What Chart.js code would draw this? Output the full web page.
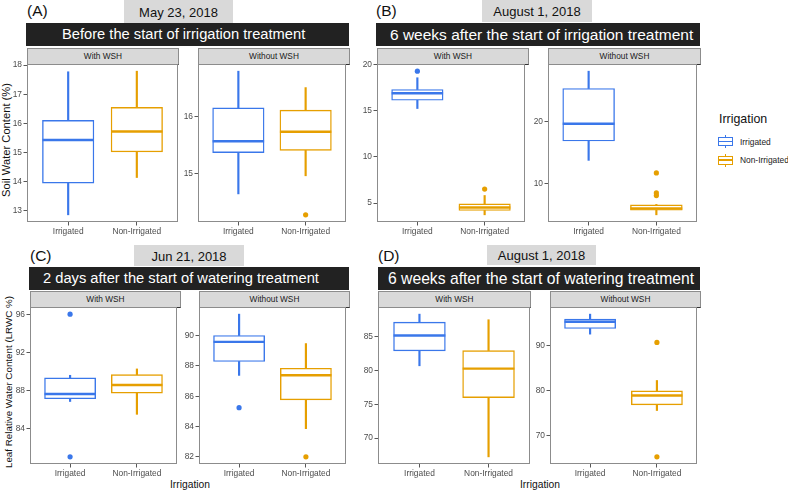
<!DOCTYPE html>
<html><head><meta charset="utf-8">
<script src="https://cdn.jsdelivr.net/npm/chart.js@4.4.0/dist/chart.umd.min.js"></script>
<style>
body{margin:0;background:#fff;width:788px;height:490px;position:relative;overflow:hidden;font-family:"Liberation Sans",Arial,Helvetica,sans-serif;}
.abs{position:absolute;white-space:nowrap;}
.date{background:#d9d9d9;color:#111;font-size:13px;text-align:center;}
.hdr{background:#222;color:#fff;}
.strip{background:#d9d9d9;border:1px solid #8c8c8c;border-bottom-color:#333;box-sizing:border-box;font-size:8.3px;text-align:center;color:#1a1a1a;}
canvas{position:absolute;}
</style></head><body>
<script>
// ---------- data ----------
const categories = ['Irrigated', 'Non-Irrigated'];
const seriesColors = ['#3A77EA', '#E69F00'];
const stripLabels = ['With WSH', 'Without WSH'];
const panelLetters = ['(A)', '(B)', '(C)', '(D)'];
const panelDates = ['May 23, 2018', 'August 1, 2018', 'Jun 21, 2018', 'August 1, 2018'];
const panelHeaders = ['Before the start of irrigation treatment', '6 weeks after the start of irrigation treatment',
  '2 days after the start of watering treatment', '6 weeks after the start of watering treatment'];

// box stats per category: [lower whisker, Q1, median, Q3, upper whisker]
const soilMayWith = [[12.86, 13.95, 15.43, 16.10, 17.77], [14.14, 15.02, 15.72, 16.55, 17.79]];
const soilMayWithOut = [[], []];
const soilMayWithout = [[14.64, 15.37, 15.57, 16.16, 16.81], [14.96, 15.41, 15.74, 16.12, 16.52]];
const soilMayWithoutOut = [[], [14.27]];
const soilAugWith = [[15.23, 16.13, 16.89, 17.29, 18.56], [3.73, 4.20, 4.52, 4.92, 5.82]];
const soilAugWithOut = [[19.27], [6.52]];
const soilAugWithout = [[13.79, 16.90, 19.68, 25.35, 28.14], [5.03, 5.77, 6.04, 6.63, 6.70]];
const soilAugWithoutOut = [[], [11.77, 8.56, 8.13]];
const lrwcJunWith = [[86.83, 87.12, 87.62, 89.31, 89.59], [85.48, 87.72, 88.57, 89.66, 90.26]];
const lrwcJunWithOut = [[96.03, 81.0], []];
const lrwcJunWithout = [[87.37, 88.29, 89.58, 90.00, 91.41], [83.86, 85.76, 87.38, 87.84, 89.47]];
const lrwcJunWithoutOut = [[85.24], [82.0]];
const lrwcAugWith = [[80.71, 82.92, 85.19, 87.17, 88.36], [67.22, 75.99, 80.29, 82.96, 87.53]];
const lrwcAugWithOut = [[], []];
const lrwcAugWithout = [[92.60, 93.87, 95.37, 95.95, 97.07], [75.53, 76.80, 78.88, 79.93, 82.24]];
const lrwcAugWithoutOut = [[], [90.74, 65.17]];

// y tick labels
const ticksSoilMayWith = [13, 14, 15, 16, 17, 18];
const ticksSoilMayWithout = [15, 16];
const ticksSoilAugWith = [5, 10, 15, 20];
const ticksSoilAugWithout = [10, 20];
const ticksLrwcJunWith = [84, 88, 92, 96];
const ticksLrwcJunWithout = [82, 84, 86, 88, 90];
const ticksLrwcAugWith = [70, 75, 80, 85];
const ticksLrwcAugWithout = [70, 80, 90];

// ---------- layout ----------
const FONT = '"Liberation Sans", Arial, Helvetica, sans-serif';
const panels = [
  {x: 27, y: 64, w: 151, h: 158, box: soilMayWith, out: soilMayWithOut, ticks: ticksSoilMayWith, strip: 0},
  {x: 198, y: 64, w: 151, h: 158, box: soilMayWithout, out: soilMayWithoutOut, ticks: ticksSoilMayWithout, strip: 1},
  {x: 377, y: 64, w: 151, h: 158, box: soilAugWith, out: soilAugWithOut, ticks: ticksSoilAugWith, strip: 0},
  {x: 548, y: 64, w: 152, h: 158, box: soilAugWithout, out: soilAugWithoutOut, ticks: ticksSoilAugWithout, strip: 1},
  {x: 30, y: 307, w: 150, h: 157, box: lrwcJunWith, out: lrwcJunWithOut, ticks: ticksLrwcJunWith, strip: 0},
  {x: 199, y: 307, w: 150, h: 157, box: lrwcJunWithout, out: lrwcJunWithoutOut, ticks: ticksLrwcJunWithout, strip: 1},
  {x: 378, y: 307, w: 152, h: 157, box: lrwcAugWith, out: lrwcAugWithOut, ticks: ticksLrwcAugWith, strip: 0},
  {x: 550, y: 307, w: 150, h: 157, box: lrwcAugWithout, out: lrwcAugWithoutOut, ticks: ticksLrwcAugWithout, strip: 1}
];
const headerLayout = [
  {lx: 27, ly: 3, dx: 124, dy: 0, dw: 109, dh: 23, hx: 26, hy: 23, hw: 323, tx: 62, fs: 14.7},
  {lx: 376, ly: 3, dx: 482, dy: 0, dw: 110, dh: 22, hx: 376, hy: 23, hw: 324, tx: 390, fs: 15.5},
  {lx: 30, ly: 248, dx: 134, dy: 245, dw: 110, dh: 21, hx: 29, hy: 267, hw: 320, tx: 43, fs: 14.7},
  {lx: 378, ly: 248, dx: 487, dy: 245, dw: 109, dh: 20, hx: 378, hy: 267, hw: 322, tx: 388, fs: 15.7}
];

function div(cls, style, text) {
  const d = document.createElement('div');
  d.className = 'abs ' + (cls || '');
  Object.assign(d.style, style);
  if (text !== undefined) d.textContent = text;
  document.body.appendChild(d);
  return d;
}

headerLayout.forEach((L, i) => {
  div('', {left: L.lx + 'px', top: L.ly + 'px', fontSize: '15.5px', lineHeight: '1', color: '#111'}, panelLetters[i]);
  div('date', {left: L.dx + 'px', top: L.dy + 'px', width: L.dw + 'px', height: L.dh + 'px', lineHeight: (L.dh + 2) + 'px'}, panelDates[i]);
  const h = div('hdr', {left: L.hx + 'px', top: L.hy + 'px', width: L.hw + 'px', height: '23px'});
  div('', {left: (L.tx - L.hx) + 'px', top: '0px', lineHeight: '23px', fontSize: L.fs + 'px', color: '#fff'}, panelHeaders[i]);
  h.appendChild(document.body.lastChild);
});

panels.forEach(p => {
  div('strip', {left: p.x + 'px', top: (p.y - 16) + 'px', width: (p.w + 1) + 'px', height: '17px', lineHeight: '15px'}, stripLabels[p.strip]);
});

// axis titles
div('', {left: '6px', top: '140px', fontSize: '11.2px', color: '#111', transform: 'translate(-50%,-50%) rotate(-90deg)'}, 'Soil Water Content (%)');
div('', {left: '8px', top: '382px', fontSize: '9.8px', color: '#111', transform: 'translate(-50%,-50%) rotate(-90deg)'}, 'Leaf Relative Water Content (LRWC %)');
div('', {left: '190px', top: '484px', fontSize: '10.3px', color: '#111', transform: 'translate(-50%,-50%)'}, 'Irrigation');
div('', {left: '540px', top: '484px', fontSize: '10.3px', color: '#111', transform: 'translate(-50%,-50%)'}, 'Irrigation');

// legend
div('', {left: '719px', top: '112px', fontSize: '12.4px', lineHeight: '15px', color: '#111'}, 'Irrigation');
categories.forEach((c, i) => {
  const cy = 141.7 + i * 18.3;
  const col = seriesColors[i];
  div('', {left: '725px', top: (cy - 6.5) + 'px', width: '1.2px', height: '13px', background: col});
  div('', {left: '718px', top: (cy - 4.5) + 'px', width: '15px', height: '9px', border: '1.2px solid ' + col, background: '#fff', boxSizing: 'border-box'});
  div('', {left: '718px', top: (cy - 0.8) + 'px', width: '15px', height: '1.6px', background: col});
  div('', {left: '740px', top: (cy - 5) + 'px', fontSize: '8.4px', lineHeight: '10px', color: '#222'}, c);
});

// ---------- charts ----------
const YW = 30, XH = 18, TOPPAD = 8;
function makePanel(p) {
  const cv = document.createElement('canvas');
  cv.width = p.w + YW + 1;
  cv.height = TOPPAD + p.h + XH;
  cv.style.left = (p.x - YW) + 'px';
  cv.style.top = (p.y - TOPPAD) + 'px';
  document.body.appendChild(cv);
  const allVals = p.box.flat().concat(p.out.flat());
  const lo = Math.min(...allVals), hi = Math.max(...allVals);
  const pad = (hi - lo) * 0.05;
  const unit = p.w / 2.2;
  const outPts = [], outCols = [];
  p.out.forEach((arr, i) => arr.forEach(v => { outPts.push({x: i + 1, y: v}); outCols.push(seriesColors[i]); }));
  const tickFont = {size: 8.4, family: FONT};
  const grid = {drawOnChartArea: false, drawTicks: true, tickLength: 3.5, color: '#444', lineWidth: 0.9, offset: false};
  const extra = {
    id: 'boxExtra',
    afterDatasetsDraw(chart) {
      const {ctx, chartArea: a, scales: {x, y}} = chart;
      ctx.save();
      p.box.forEach((b, i) => {
        const cx = x.getPixelForValue(i + 1);
        const hw = unit * 0.75 / 2;
        const my = y.getPixelForValue(b[2]);
        ctx.strokeStyle = seriesColors[i];
        ctx.lineWidth = 2.4;
        ctx.beginPath(); ctx.moveTo(cx - hw, my); ctx.lineTo(cx + hw, my); ctx.stroke();
      });
      ctx.strokeStyle = '#8c8c8c';
      ctx.lineWidth = 1;
      ctx.strokeRect(a.left + 0.5, a.top + 0.5, a.width - 1, a.height - 1);
      ctx.restore();
    }
  };
  new Chart(cv, {
    type: 'bar',
    data: {
      datasets: [
        {type: 'bar', data: p.box.map((b, i) => ({x: i + 1, y: [b[3], b[4]]})), backgroundColor: seriesColors,
          barThickness: 1.5, grouped: false, order: 3},
        {type: 'bar', data: p.box.map((b, i) => ({x: i + 1, y: [b[0], b[1]]})), backgroundColor: seriesColors,
          barThickness: 1.5, grouped: false, order: 3},
        {type: 'bar', data: p.box.map((b, i) => ({x: i + 1, y: [b[1], b[3]]})), backgroundColor: '#ffffff',
          borderColor: seriesColors, borderWidth: 1.4, borderSkipped: false, barThickness: unit * 0.75, grouped: false, order: 2},
        {type: 'scatter', data: outPts, pointBackgroundColor: outCols, pointBorderWidth: 0, pointRadius: 2.6, order: 0}
      ]
    },
    options: {
      responsive: false, animation: false, devicePixelRatio: 1,
      layout: {padding: {top: TOPPAD, right: 1, left: 0, bottom: 0}},
      plugins: {legend: {display: false}, tooltip: {enabled: false}},
      scales: {
        x: {type: 'linear', min: 0.4, max: 2.6, offset: false,
          afterBuildTicks: s => { s.ticks = categories.map((c, i) => ({value: i + 1})); },
          afterFit: s => { s.height = XH; s.paddingLeft = 0; s.paddingRight = 0; },
          ticks: {callback: v => categories[v - 1], font: tickFont, color: '#4d4d4d', padding: 1, maxRotation: 0, autoSkip: false},
          grid: grid, border: {display: false}},
        y: {type: 'linear', min: lo - pad, max: hi + pad, beginAtZero: false,
          afterBuildTicks: s => { s.ticks = p.ticks.map(v => ({value: v})); },
          afterFit: s => { s.width = YW; s.paddingTop = 0; s.paddingBottom = 0; },
          ticks: {font: tickFont, color: '#4d4d4d', padding: 1.5},
          grid: grid, border: {display: false}}
      }
    },
    plugins: [extra]
  });
}
panels.forEach(makePanel);
</script>
</body></html>
